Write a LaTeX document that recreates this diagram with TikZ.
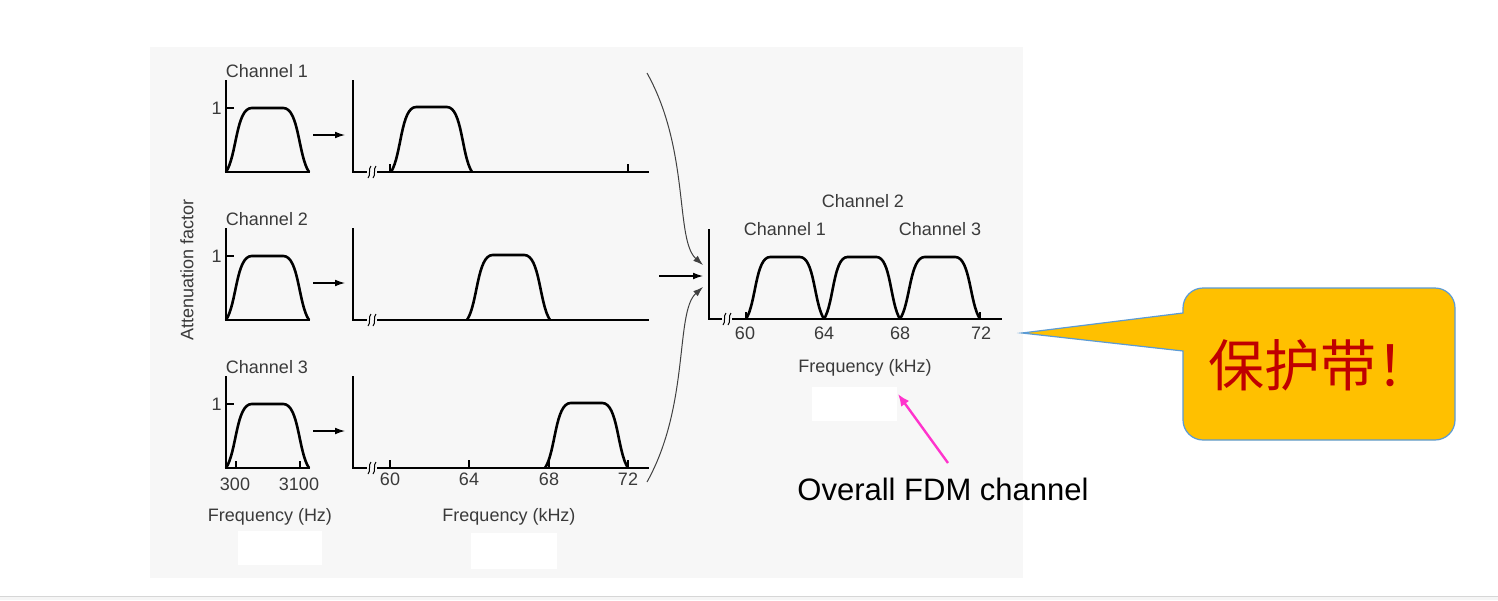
\documentclass[tikz,border=0pt]{standalone}
\usepackage{fontspec}
\setmainfont{Liberation Sans}
\newfontfamily\cjk{Noto Sans CJK SC}
\usetikzlibrary{arrows.meta}

\definecolor{panelgray}{HTML}{F7F7F7}
\definecolor{labelgray}{HTML}{3A3A3A}
\definecolor{calloutfill}{HTML}{FFC000}
\definecolor{calloutline}{HTML}{5B9BD5}
\definecolor{calloutred}{HTML}{C00000}
\definecolor{pointerpink}{HTML}{FF33CC}

% #1,#2: feet of the band, #3: base line, #4: top
\newcommand{\passband}[4]{%
  \draw[band] (#1,#3) .. controls ({#1+0.13*((#2)-(#1))},{#3-0.25*((#3)-(#4))}) and ({#1+0.12*((#2)-(#1))},#4) .. ({#1+0.31*((#2)-(#1))},#4)
    -- ({#2-0.31*((#2)-(#1))},#4) .. controls ({#2-0.12*((#2)-(#1))},#4) and ({#2-0.13*((#2)-(#1))},{#3-0.25*((#3)-(#4))}) .. (#2,#3);}
% two little strokes that break the frequency axis
\newcommand{\axisbreak}[2]{%
  \foreach \dx in {-2.5,2.5}
    \draw[line width=0.5pt] ({#1+\dx-1.5},{#2+6}) .. controls ({#1+\dx+1.8},{#2+3}) and ({#1+\dx-1.8},{#2-3}) .. ({#1+\dx+1.5},{#2-6});}

\begin{document}
\begin{tikzpicture}[x=0.5pt,y=-0.5pt,
    ax/.style={line width=0.8pt},
    band/.style={line width=1.3pt, line join=round},
    tick/.style={line width=0.6pt},
    lbl/.style={text=labelgray, font=\fontsize{9}{10}\selectfont, inner sep=0pt},
    feed/.style={-{Latex[length=5pt,width=3.4pt]}, line width=0.6pt},
    merge/.style={-{Latex[length=5pt,width=3.4pt]}, line width=0.5pt, black!75}]

\useasboundingbox (0,0) rectangle (1498,600);
\fill[white] (0,0) rectangle (1498,600);
\fill[black!4] (0,596) rectangle (1498,600);
\draw[black!16, line width=0.6pt] (0,596.5) -- (1498,596.5);
\fill[panelgray] (150,47) rectangle (1023,578);
\fill[white] (238,531) rectangle (322,565);
\fill[white] (471,533) rectangle (557,569);
\fill[white] (812,387) rectangle (897,421);

\node[lbl, rotate=90] (atten) at (187,270) {Attenuation factor};

% the three voice channels and their shifted copies
\foreach \i/\yb/\fa/\fb in {1/172/391/472, 2/320/467/550, 3/468/545/628} {
  \node[lbl] (ch\i) at (267,{\yb-101}) {Channel \i};
  \draw[ax] (226,{\yb-92}) -- (226,\yb) -- (310,\yb);
  \draw[tick] (226,{\yb-64}) -- (234,{\yb-64});
  \node[lbl, anchor=east] (one\i) at (222,{\yb-64}) {1};
  \passband{226}{309}{\yb}{\yb-64}
  \coordinate (s\i) at (313,{\yb-37});
  \coordinate (e\i) at (345,{\yb-37});
  \draw[feed] (s\i) -- (e\i);
  \draw[ax] (353,{\yb-92}) -- (353,\yb) -- (367,\yb);
  \draw[ax] (377,\yb) -- (649,\yb);
  \axisbreak{372}{\yb}
  \passband{\fa}{\fb}{\yb}{\yb-65}
}
\draw[tick] (390,172) -- (390,164);
\draw[tick] (628,172) -- (628,164);

% axis marks under channel 3
\draw[tick] (236,468) -- (236,461);
\draw[tick] (300,468) -- (300,461);
\node[lbl] (lo) at (235,484) {300};
\node[lbl] (hi) at (299,484) {3100};
\node[lbl] (fhz) at (270,517) {Frequency (Hz)};
\foreach \f/\x in {60/390, 64/469, 68/549, 72/628} {
  \draw[tick] (\x,468) -- (\x,460);
  \node[lbl] (mid\f) at (\x,479) {\f};
}
\node[lbl] (fkhz) at (509,517) {Frequency (kHz)};

% merging into one group
\coordinate (top) at (647,73);
\coordinate (mid) at (659,276);
\coordinate (bot) at (647,482);
\coordinate (in1) at (703,265);
\coordinate (in2) at (703,276);
\coordinate (in3) at (703,287);
\draw[merge] (top) .. controls (690,150) and (675,240) .. (in1);
\draw[feed] (mid) -- (in2);
\draw[merge] (bot) .. controls (690,405) and (675,312) .. (in3);

% the FDM group
\draw[ax] (709,229) -- (709,319) -- (722,319);
\draw[ax] (732,319) -- (1002,319);
\axisbreak{727}{319}
\passband{746}{824}{319}{257}
\passband{824}{900}{319}{257}
\passband{900}{980}{319}{257}
\draw[tick] (746,319) -- (746,312);
\draw[tick] (980,319) -- (980,312);
\foreach \f/\x in {60/745, 64/824, 68/900, 72/981}
  \node[lbl] (grp\f) at (\x,333) {\f};
\node[lbl] (gch2) at (863,201) {Channel 2};
\node[lbl] (gch1) at (785,229) {Channel 1};
\node[lbl] (gch3) at (940,229) {Channel 3};
\node[lbl] (gkhz) at (865,368) {Frequency (kHz)};

\node[font=\fontsize{15.5}{17}\selectfont, inner sep=0pt] (fdm) at (943,489) {Overall FDM channel};
\coordinate (fdmfoot) at (948,463);
\coordinate (fdmtip) at (898,394);
\draw[pointerpink, line width=1.2pt, -{Latex[length=6pt,width=5pt]}] (fdmfoot) -- (fdmtip);

% callout
\draw[calloutline, fill=calloutfill, line width=0.6pt]
  (1183,313) [rounded corners=10pt] -- (1183,288) -- (1455,288) -- (1455,440) -- (1183,440)
  [sharp corners] -- (1183,351) -- (1022,333) -- cycle;
\node[text=calloutred, font=\cjk\fontsize{28}{30}\selectfont, inner sep=0pt] (guard) at (1320,365) {保护带！};
\end{tikzpicture}
\end{document}
